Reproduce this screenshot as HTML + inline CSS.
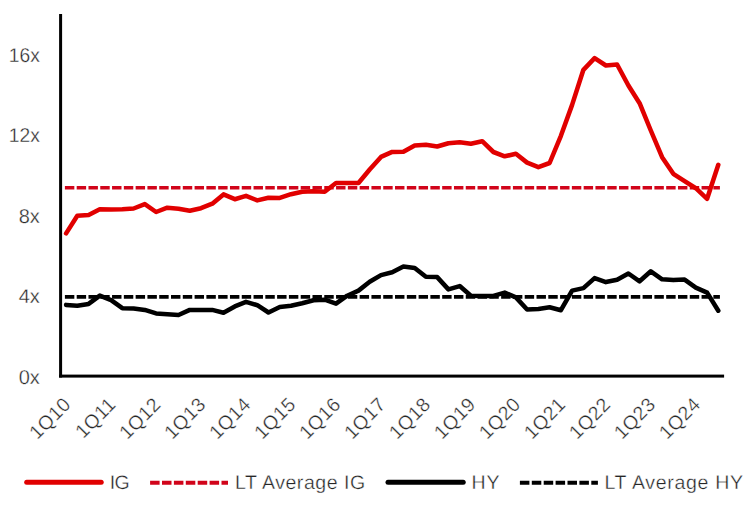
<!DOCTYPE html>
<html><head><meta charset="utf-8">
<style>
html,body{margin:0;padding:0;background:#fff;}
body{width:756px;height:510px;overflow:hidden;}
svg{display:block;}
text{font-family:"Liberation Sans",sans-serif;fill:#262626;stroke:#fff;stroke-width:0.35px;text-rendering:geometricPrecision;}
.yl{font-size:20px;}
.xl{font-size:19.5px;letter-spacing:0.3px;}
.lg{font-size:19.5px;}
</style></head>
<body>
<svg width="756" height="510" viewBox="0 0 756 510">
<rect width="756" height="510" fill="#ffffff"/>
<!-- average lines -->
<line x1="64.9" y1="187.8" x2="719.9" y2="187.8" stroke="#d1041a" stroke-width="3.6" stroke-dasharray="9.43 2.36"/>
<line x1="64.9" y1="296.9" x2="719.9" y2="296.9" stroke="#000" stroke-width="3.6" stroke-dasharray="9.43 2.36"/>
<!-- series -->
<polyline fill="none" stroke="#000" stroke-width="4.55" stroke-linejoin="round" stroke-linecap="round" points="66.1,304.9 77.3,305.7 88.6,303.9 99.8,295.6 111.1,300.1 122.3,308.2 133.6,308.4 144.8,309.9 156.1,313.4 167.3,314.2 178.5,315.0 189.8,309.9 201.0,309.9 212.3,309.9 223.5,312.7 234.8,306.4 246.0,301.9 257.3,305.2 268.5,312.5 279.8,307.0 291.0,305.7 302.2,303.2 313.5,300.2 324.7,299.7 336.0,303.7 347.2,295.7 358.5,290.6 369.7,281.8 381.0,275.1 392.2,272.3 403.4,266.5 414.7,268.0 425.9,276.8 437.2,277.1 448.4,289.4 459.7,286.1 470.9,295.7 482.2,295.9 493.4,295.9 504.7,292.6 515.9,297.4 527.1,309.5 538.4,308.9 549.6,307.2 560.9,310.2 572.1,290.6 583.4,288.1 594.6,278.1 605.9,282.1 617.1,279.8 628.4,273.5 639.6,281.3 650.8,271.3 662.1,279.3 673.3,280.1 684.6,279.6 695.8,287.6 707.1,292.6 718.3,310.7"/>
<polyline fill="none" stroke="#e10000" stroke-width="4.55" stroke-linejoin="round" stroke-linecap="round" points="66.1,233.4 77.3,215.8 88.6,215.0 99.8,209.3 111.1,209.5 122.3,209.3 133.6,208.5 144.8,204.1 156.1,212.0 167.3,207.7 178.5,208.7 189.8,210.8 201.0,208.2 212.3,203.7 223.5,194.4 234.8,199.2 246.0,195.9 257.3,200.4 268.5,197.7 279.8,197.9 291.0,194.2 302.2,191.7 313.5,191.3 324.7,191.7 336.0,183.0 347.2,183.0 358.5,183.0 369.7,169.5 381.0,156.9 392.2,151.9 403.4,151.7 414.7,145.4 425.9,144.8 437.2,146.5 448.4,143.2 459.7,142.2 470.9,143.7 482.2,141.2 493.4,152.0 504.7,156.3 515.9,153.8 527.1,162.6 538.4,167.1 549.6,163.0 560.9,135.8 572.1,104.9 583.4,69.8 594.6,58.2 605.9,65.5 617.1,64.5 628.4,85.5 639.6,103.2 650.8,130.5 662.1,157.2 673.3,173.8 684.6,181.2 695.8,188.2 707.1,198.8 718.3,164.8"/>
<!-- axes -->
<rect x="59.1" y="14" width="3" height="363.5" fill="#000"/>
<rect x="59.1" y="374.6" width="665" height="3" fill="#000"/>
<text class="yl" text-anchor="end" x="39.8" y="61.8" textLength="31" lengthAdjust="spacingAndGlyphs">16x</text>
<text class="yl" text-anchor="end" x="39.8" y="141.9" textLength="31" lengthAdjust="spacingAndGlyphs">12x</text>
<text class="yl" text-anchor="end" x="39.8" y="222.8">8x</text>
<text class="yl" text-anchor="end" x="39.8" y="303.0">4x</text>
<text class="yl" text-anchor="end" x="39.8" y="383.9">0x</text>
<text class="xl" text-anchor="end" transform="translate(71.9,405.7) rotate(-45)">1Q10</text>
<text class="xl" text-anchor="end" transform="translate(116.9,405.7) rotate(-45)">1Q11</text>
<text class="xl" text-anchor="end" transform="translate(161.9,405.7) rotate(-45)">1Q12</text>
<text class="xl" text-anchor="end" transform="translate(206.8,405.7) rotate(-45)">1Q13</text>
<text class="xl" text-anchor="end" transform="translate(251.8,405.7) rotate(-45)">1Q14</text>
<text class="xl" text-anchor="end" transform="translate(296.8,405.7) rotate(-45)">1Q15</text>
<text class="xl" text-anchor="end" transform="translate(341.8,405.7) rotate(-45)">1Q16</text>
<text class="xl" text-anchor="end" transform="translate(386.8,405.7) rotate(-45)">1Q17</text>
<text class="xl" text-anchor="end" transform="translate(431.7,405.7) rotate(-45)">1Q18</text>
<text class="xl" text-anchor="end" transform="translate(476.7,405.7) rotate(-45)">1Q19</text>
<text class="xl" text-anchor="end" transform="translate(521.7,405.7) rotate(-45)">1Q20</text>
<text class="xl" text-anchor="end" transform="translate(566.7,405.7) rotate(-45)">1Q21</text>
<text class="xl" text-anchor="end" transform="translate(611.7,405.7) rotate(-45)">1Q22</text>
<text class="xl" text-anchor="end" transform="translate(656.6,405.7) rotate(-45)">1Q23</text>
<text class="xl" text-anchor="end" transform="translate(701.6,405.7) rotate(-45)">1Q24</text>

<!-- legend -->
<line x1="26.7" y1="482.35" x2="101.2" y2="482.35" stroke="#e10000" stroke-width="5" stroke-linecap="round"/>
<text class="lg" x="109.7" y="489.4" style="letter-spacing:-0.6px">IG</text>
<line x1="150.1" y1="482.75" x2="228" y2="482.75" stroke="#d1041a" stroke-width="4.2" stroke-dasharray="9.5 2.4"/>
<text class="lg" x="235" y="489.4" style="letter-spacing:0.55px">LT Average IG</text>
<line x1="388" y1="482.35" x2="463.2" y2="482.35" stroke="#000" stroke-width="5" stroke-linecap="round"/>
<text class="lg" x="471.6" y="489.4" style="letter-spacing:0.7px">HY</text>
<line x1="519.9" y1="482.75" x2="597.9" y2="482.75" stroke="#000" stroke-width="4.2" stroke-dasharray="9.5 2.4"/>
<text class="lg" x="604.5" y="489.4" style="letter-spacing:0.7px">LT Average HY</text>
</svg>
</body></html>
